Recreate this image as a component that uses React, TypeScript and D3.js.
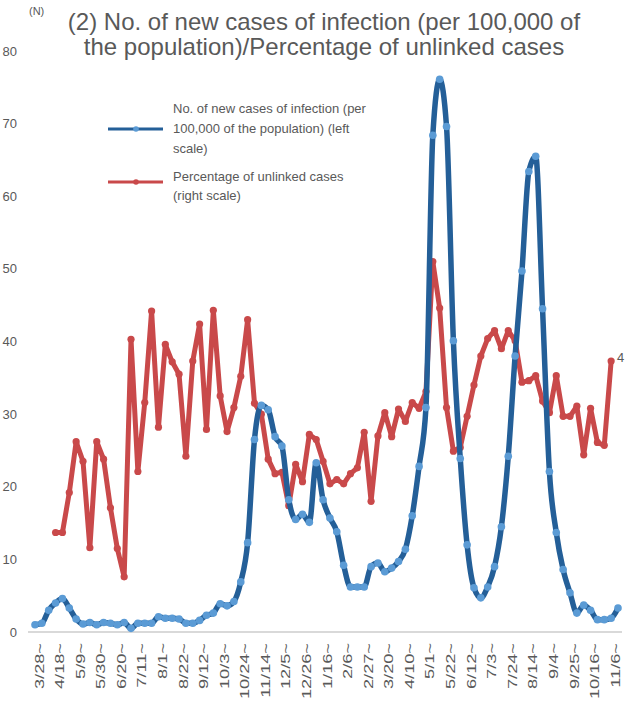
import React from "react";
import * as d3 from "d3";

const WIDTH = 625;
const HEIGHT = 705;

const weekLabels = [
  "3/28", "4/18", "5/9", "5/30", "6/20", "7/11", "8/1", "8/22", "9/12", "10/3",
  "10/24", "11/14", "12/5", "12/26", "1/16", "2/6", "2/27", "3/20", "4/10", "5/1",
  "5/22", "6/12", "7/3", "7/24", "8/14", "9/4", "9/25", "10/16", "11/6",
];

const yTicks = [0, 10, 20, 30, 40, 50, 60, 70, 80];

// New cases per 100,000 population (left scale), weekly from 3/28
const newCases = [
  1.0, 1.2, 3.0, 4.0, 4.6, 3.3, 1.8, 1.1, 1.3, 1.0,
  1.3, 1.2, 1.0, 1.3, 0.5, 1.2, 1.2, 1.2, 2.1, 1.9,
  1.9, 1.8, 1.2, 1.2, 1.6, 2.3, 2.6, 3.9, 3.6, 4.2,
  6.9, 12.3, 26.5, 31.2, 30.6, 26.9, 25.6, 18.2, 15.5, 16.2,
  15.1, 23.3, 18.2, 15.7, 13.8, 9.2, 6.2, 6.2, 6.2, 9.0,
  9.5, 8.3, 8.8, 9.7, 11.4, 16.0, 22.8, 30.9, 68.4, 76.1,
  69.6, 40.1, 23.9, 12.0, 6.1, 4.7, 6.2, 9.0, 14.5, 24.2,
  38.0, 49.7, 63.4, 65.5, 44.5, 22.1, 13.7, 8.6, 5.4, 2.6,
  3.7, 3.0, 1.7, 1.7, 1.9, 3.3,
];

// Percentage of unlinked cases (right scale), weekly from 3/28
const unlinked: (number | null)[] = [
  null, null, null, 13.7, 13.7, 19.2, 26.2, 23.5, 11.6, 26.2,
  23.8, 17.1, 11.5, 7.6, 40.3, 22.1, 31.6, 44.2, 28.2, 39.6,
  37.2, 35.5, 24.2, 37.3, 42.4, 27.9, 44.3, 32.5, 27.6, 30.9,
  35.2, 43.0, 31.5, 30.0, 23.8, 21.8, 22.0, 17.4, 23.1, 20.7,
  27.2, 26.5, 23.5, 20.4, 21.0, 20.4, 21.8, 22.6, 27.5, 18.0,
  27.0, 30.2, 26.9, 30.7, 29.0, 31.6, 30.8, 33.1, 51.0, 44.6,
  30.9, 24.9, 25.4, 29.7, 34.0, 38.0, 40.4, 41.5, 39.0, 41.5,
  40.1, 34.4, 34.6, 35.3, 31.8, 30.2, 35.3, 29.7, 29.7, 31.1,
  24.4, 30.8, 26.1, 25.7, 37.3, null,
];

const BLUE_LINE = "#245f98";
const BLUE_DOT = "#5b9bd5";
const RED = "#c9494a";
const TEXT = "#595959";
const FONT = "'Liberation Sans', Arial, sans-serif";

export default function App() {
  const n = newCases.length;
  const x = d3.scaleLinear().domain([0, n - 1]).range([35, 618]);
  const yLeft = d3.scaleLinear().domain([0, 80]).range([632, 51]);
  const yRight = d3.scaleLinear().domain([0, 80]).range([632, 51]);

  const blueLine = d3
    .line<number>()
    .x((_, i) => x(i))
    .y((d) => yLeft(d))
    .curve(d3.curveMonotoneX);

  const redPts = unlinked
    .map((v, i) => ({ v, i }))
    .filter((d) => d.v !== null) as { v: number; i: number }[];
  const redLine = d3
    .line<{ v: number; i: number }>()
    .x((d) => x(d.i))
    .y((d) => yRight(d.v));

  return (
    <svg
      width={WIDTH}
      height={HEIGHT}
      style={{ position: "absolute", left: 0, top: 0, background: "#fff" }}
      fontFamily={FONT}
    >
      <rect width={WIDTH} height={HEIGHT} fill="#fff" />
      {/* Title */}
      <text x={324} y={30} textAnchor="middle" fontSize={24} fill={TEXT}>
        (2) No. of new cases of infection (per 100,000 of
      </text>
      <text x={324} y={55} textAnchor="middle" fontSize={24} fill={TEXT}>
        the population)/Percentage of unlinked cases
      </text>
      <text x={29} y={15} fontSize={11} fill={TEXT}>
        (N)
      </text>

      {/* Y axis labels */}
      {yTicks.map((t) => (
        <text
          key={t}
          x={17}
          y={yLeft(t)}
          dy="0.35em"
          textAnchor="end"
          fontSize={13}
          fill={TEXT}
        >
          {t}
        </text>
      ))}

      {/* Baseline */}
      <line x1={28} x2={622} y1={yLeft(0)} y2={yLeft(0)} stroke="#d9d9d9" strokeWidth={2} />

      {/* X labels */}
      {weekLabels.map((lab, k) => {
        const cx = x(k * 3) + 4;
        return (
          <text
            key={lab + k}
            transform={`translate(${cx},643) rotate(-90) scale(1.4,1)`}
            textAnchor="end"
            dominantBaseline="central"
            fontSize={13}
            fill={TEXT}
          >
            {lab + "~"}
          </text>
        );
      })}

      {/* Red series */}
      <path d={redLine(redPts) || ""} fill="none" stroke={RED} strokeWidth={5} strokeLinejoin="round" />
      {redPts.map((d) => (
        <circle key={"r" + d.i} cx={x(d.i)} cy={yRight(d.v)} r={3.6} fill={RED} />
      ))}

      {/* Blue series */}
      <path d={blueLine(newCases) || ""} fill="none" stroke={BLUE_LINE} strokeWidth={5.5} strokeLinejoin="round" />
      {newCases.map((v, i) => (
        <circle key={"b" + i} cx={x(i)} cy={yLeft(v)} r={3.8} fill={BLUE_DOT} />
      ))}

      {/* right-edge label fragment */}
      <text x={617} y={362} fontSize={13} fill={TEXT}>
        4
      </text>

      {/* Legend */}
      <line x1={108} x2={163} y1={129} y2={129} stroke={BLUE_LINE} strokeWidth={3} />
      <circle cx={136} cy={129} r={2.8} fill={BLUE_DOT} />
      <text fontSize={13} fill={TEXT}>
        <tspan x={173} y={113}>No. of new cases of infection (per</tspan>
        <tspan x={173} y={133}>100,000 of the population) (left</tspan>
        <tspan x={173} y={153}>scale)</tspan>
      </text>
      <line x1={108} x2={163} y1={182} y2={182} stroke={RED} strokeWidth={3} />
      <circle cx={136} cy={182} r={2.8} fill={RED} />
      <text fontSize={13} fill={TEXT}>
        <tspan x={173} y={181}>Percentage of unlinked cases</tspan>
        <tspan x={173} y={200}>(right scale)</tspan>
      </text>
    </svg>
  );
}
